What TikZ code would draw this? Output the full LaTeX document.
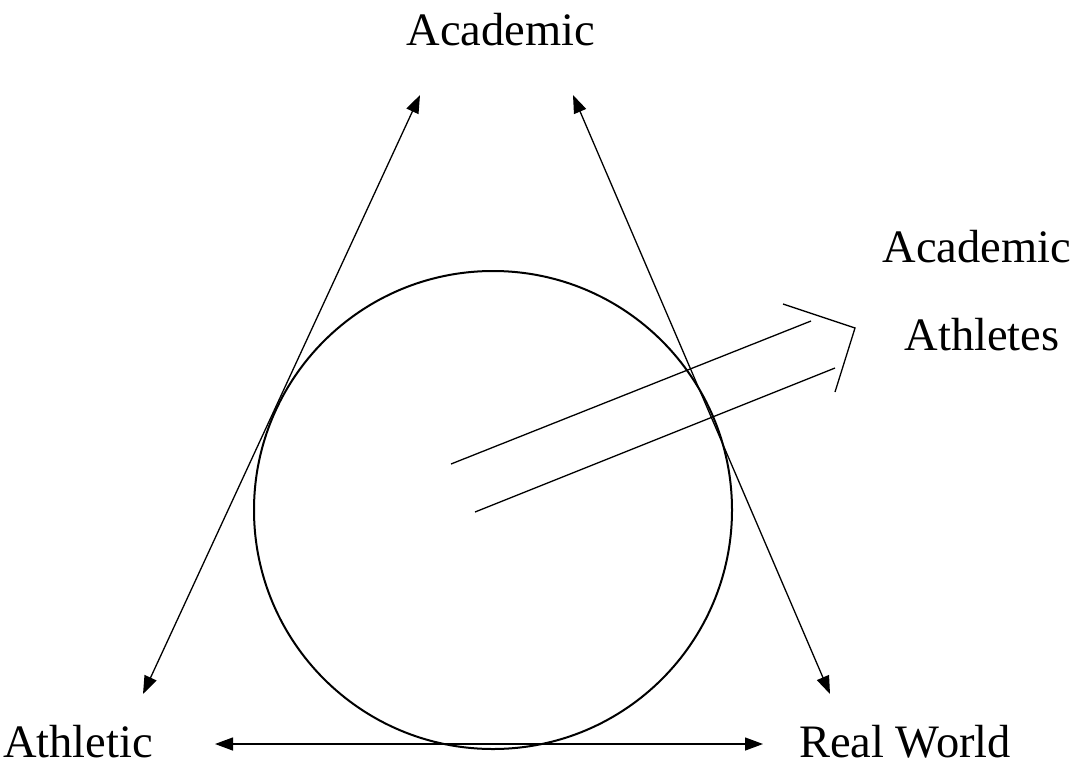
\documentclass[tikz,border=0pt]{standalone}
\usepackage{fontspec}
\setmainfont{Liberation Serif}
\usetikzlibrary{arrows.meta}
\begin{document}
\begin{tikzpicture}[x=1pt,y=-1pt,
  lbl/.style={inner sep=0pt,anchor=base,font=\fontsize{46.5}{55}\selectfont},
  conn/.style={line width=1.3pt,{Triangle[length=18pt,width=13pt]}-{Triangle[length=18pt,width=13pt]}},
  thin/.style={line width=1.3pt}]
\useasboundingbox (0,0) rectangle (1084,766);
\node[lbl] (acad) at (501,45) {Academic};
\node[lbl] (acad2) at (977,262) {Academic};
\node[lbl] (athl) at (982,350) {Athletes};
\node[lbl] (athletic) at (78,757) {Athletic};
\node[lbl] (real) at (905,757) {Real World};
\node[draw,circle,line width=2pt,minimum size=478pt,inner sep=0pt] (c) at (493,510) {};
\coordinate (lt) at (420,95);
\coordinate (lb) at (143,694);
\coordinate (rt) at (573,95);
\coordinate (rb) at (830,694);
\coordinate (bl) at (215,744);
\coordinate (br) at (763,744);
\draw[conn] (lt) -- (lb);
\draw[conn] (rt) -- (rb);
\draw[conn] (bl) -- (br);
\coordinate (a1) at (451,464);
\coordinate (a1e) at (811,321);
\coordinate (a2) at (475,512);
\coordinate (a2e) at (835,368);
\coordinate (h1) at (783,304);
\coordinate (h2) at (855,328);
\coordinate (h3) at (835,392);
\draw[thin] (a1) -- (a1e);
\draw[thin] (a2) -- (a2e);
\draw[thin] (h1) -- (h2) -- (h3);
\end{tikzpicture}
\end{document}
